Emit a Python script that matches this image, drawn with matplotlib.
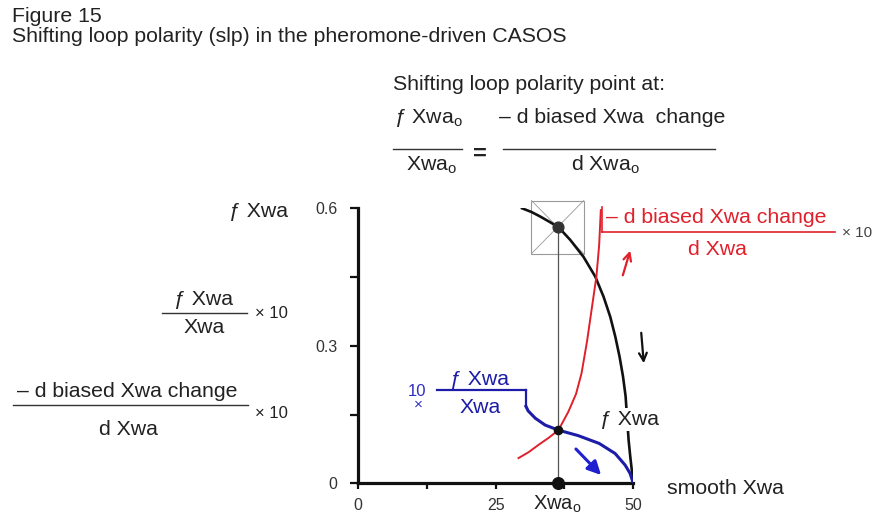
import matplotlib.pyplot as plt
from matplotlib.lines import Line2D
from matplotlib.patches import Rectangle

plt.rcParams['font.family'] = ['Liberation Sans', 'DejaVu Sans']
plt.rcParams['mathtext.fontset'] = 'custom'
plt.rcParams['mathtext.rm'] = 'Liberation Sans'

# f Xwa (black curve)
f_x = [29.8, 31.5, 33.1, 34.7, 36.4, 38.55, 40.96, 43.09, 44.6, 45.82, 46.73, 47.51, 48.13, 48.6, 49.15, 49.45, 50.0]
f_y = [0.600, 0.592, 0.582, 0.571, 0.559, 0.531, 0.494, 0.451, 0.407, 0.363, 0.320, 0.276, 0.233, 0.190, 0.094, 0.058, 0.0]

# -d biased Xwa change / d Xwa x 10 (red curve)
d_x = [29.15, 31.0, 32.8, 34.6, 36.4, 38.2, 39.6, 40.6, 41.6, 42.5, 43.3, 43.8, 44.1]
d_y = [0.055, 0.068, 0.084, 0.099, 0.116, 0.156, 0.195, 0.240, 0.310, 0.385, 0.451, 0.520, 0.596]

# f Xwa / Xwa x 10 (blue curve)
r_x = [30.5, 30.9, 32.2, 34.0, 36.4, 40.0, 43.8, 46.7, 48.5, 49.4, 50.0]
r_y = [0.168, 0.158, 0.142, 0.127, 0.116, 0.104, 0.087, 0.065, 0.040, 0.022, 0.0]

# shifting loop polarity point
x_o = 36.4
f_o = 0.559
r_o = 0.116

y_ticks = [0, 0.15, 0.3, 0.45, 0.6]
y_labels = ['0', '', '0.3', '', '0.6']
x_ticks = [0, 12.5, 25, 37.5, 50]
x_labels = ['0', '', '25', '', '50']

W, H = 881, 518
TXT = '#222222'
RED = '#e0202a'
BLUE = '#1c1ca8'
sub_o = r'$_{\mathregular{o}}$'


def fp(x, y):
    # pixel position (from top-left) -> figure fraction
    return x / W, 1 - y / H


def hline(x1, x2, y, color='#333333', lw=1.0):
    fig.add_artist(Line2D([x1 / W, x2 / W], [1 - y / H, 1 - y / H],
                          transform=fig.transFigure, color=color, lw=lw))


def vline(x, y1, y2, color, lw):
    fig.add_artist(Line2D([x / W, x / W], [1 - y1 / H, 1 - y2 / H],
                          transform=fig.transFigure, color=color, lw=lw))


def label(x, y, s, size=15.3, color=TXT, ha='center', va='baseline', **kw):
    fig.text(*fp(x, y), s, fontsize=size, color=color, ha=ha, va=va, **kw)


fig = plt.figure(figsize=(W / 100, H / 100), dpi=100)
ax = fig.add_axes([358 / W, 1 - 483.3 / H, 275.3 / W, 275 / H])

ax.plot(f_x, f_y, color='#111111', lw=1.9, zorder=3, solid_joinstyle='round')
ax.plot(d_x, d_y, color=RED, lw=1.4, zorder=3, solid_joinstyle='round')
ax.plot(r_x, r_y, color=BLUE, lw=2.2, zorder=3, solid_joinstyle='round')

# guide box and drop line through the polarity point
bx0, bx1 = x_o - 4.9, x_o + 4.6
by0, by1 = f_o - 0.058, f_o + 0.058
ax.add_patch(Rectangle((bx0, by0), bx1 - bx0, by1 - by0, fill=False,
                       ec='#9a9a9a', lw=0.8, clip_on=False, zorder=2))
ax.plot([bx0, bx1], [by0, by1], color='#9a9a9a', lw=0.6, clip_on=False)
ax.plot([bx0, bx1], [by1, by0], color='#9a9a9a', lw=0.6, clip_on=False)
ax.plot([x_o, x_o], [f_o, 0], color='#555555', lw=0.9, zorder=2)
ax.scatter([x_o], [f_o], s=60, color='#333333', zorder=5)
ax.scatter([x_o], [r_o], s=35, color='#111111', zorder=5)
ax.scatter([x_o], [0], s=70, color='#111111', zorder=5, clip_on=False)

ax.set_xlim(0, 50)
ax.set_ylim(0, 0.6)
ax.set_xticks(x_ticks)
ax.set_xticklabels(x_labels)
ax.set_yticks(y_ticks)
ax.set_yticklabels(y_labels)
for side in ['top', 'right']:
    ax.spines[side].set_visible(False)
for side in ['left', 'bottom']:
    ax.spines[side].set_linewidth(2.3)
    ax.spines[side].set_color('#111111')
ax.tick_params(axis='both', width=1.6, color='#111111', labelcolor='#333333', labelsize=11.5)
ax.tick_params(axis='y', length=6, pad=9)
ax.tick_params(axis='x', length=4.5, pad=6)

# titles
label(12, 21.7, 'Figure 15', ha='left')
label(12, 41.7, 'Shifting loop polarity (slp) in the pheromone-driven CASOS', ha='left')

# polarity point formula
label(393, 90, 'Shifting loop polarity point at:', ha='left')
label(428, 123.3, 'ƒ Xwa' + sub_o)
hline(393, 462, 149)
label(432, 170, 'Xwa' + sub_o)
label(480, 154, '=', size=17, va='center', fontweight='bold')
label(612, 123.3, '– d biased Xwa  change')
hline(503, 715, 149)
label(605, 170, 'd Xwa' + sub_o)

# y-axis series labels
label(288, 217, 'ƒ Xwa', ha='right')
label(204, 305, 'ƒ Xwa')
hline(162, 247, 313.3)
label(204, 333, 'Xwa')
label(255, 313.3, '× 10', size=12, ha='left', va='center')
label(127, 396.7, '– d biased Xwa change')
hline(13, 248, 405)
label(128, 435, 'd Xwa')
label(255, 413, '× 10', size=12, ha='left', va='center')

# x-axis labels
label(557.5, 510, 'Xwa' + sub_o, size=14.5)
label(667, 488, 'smooth Xwa', ha='left', va='center')

# red curve label
vline(602, 207, 232, RED, 1.2)
hline(602, 835, 231.7, color=RED, lw=1.2)
label(716, 223, '– d biased Xwa change', color=RED)
label(717, 255, 'd Xwa', color=RED)
label(842, 233, '× 10', size=11, ha='left', va='center', color='#444444')

# blue curve label
hline(437, 526, 390, color=BLUE, lw=1.6)
vline(526, 390, 407, BLUE, 1.6)
label(480, 385, 'ƒ Xwa', color=BLUE)
label(480, 413, 'Xwa', color=BLUE)
label(417, 391, '10', size=12, va='center', color='#3030c0')
label(418, 405, '×', size=11, va='center', color='#3030c0')

# black curve label (sits in a gap of the curve)
fig.text(*fp(630, 425), 'ƒ Xwa', fontsize=15.3, color=TXT, ha='center', va='baseline',
         bbox=dict(facecolor='white', edgecolor='none', pad=1.5), zorder=4)

# direction arrows
ax.annotate('', xy=(631, H - 248), xytext=(622, H - 278), xycoords='figure pixels',
            arrowprops=dict(arrowstyle='->', color=RED, lw=1.6, mutation_scale=14))
ax.annotate('', xy=(644, H - 366), xytext=(641, H - 330), xycoords='figure pixels',
            arrowprops=dict(arrowstyle='->', color='#111111', lw=1.6, mutation_scale=14))
ax.annotate('', xy=(603, H - 477), xytext=(574, H - 447), xycoords='figure pixels',
            arrowprops=dict(arrowstyle='-|>', color='#2020d0', lw=2.2, mutation_scale=20))

fig.savefig('out.png', dpi=100)
